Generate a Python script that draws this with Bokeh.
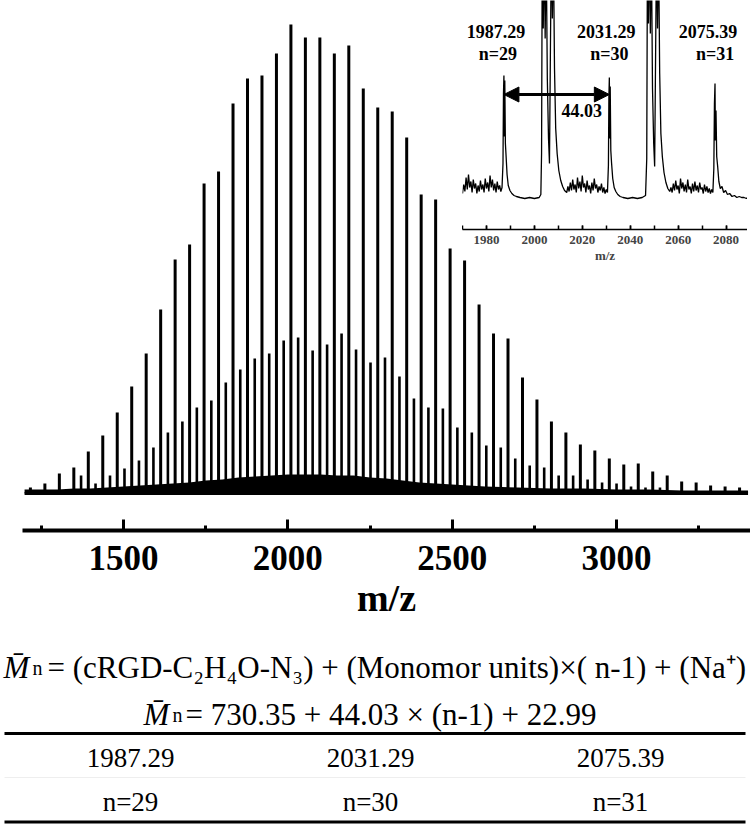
from bokeh.plotting import figure
from bokeh.models import Range1d, SingleIntervalTicker, Arrow, NormalHead, ColumnDataSource
from bokeh.layouts import column
from bokeh.embed import file_html
from bokeh.resources import INLINE
from bokeh.core.properties import value

FONT = "Liberation Serif"

# ---------------- data ----------------
# main series (tall peaks), m/z and relative intensity (a.u.)
tall_mz = [1216.76, 1260.79, 1304.82, 1348.85, 1392.88, 1436.91, 1480.94, 1524.97, 1569.00, 1613.03,
           1657.06, 1701.09, 1745.12, 1789.15, 1833.18, 1877.21, 1921.24, 1965.27, 2009.30, 2053.33,
           2097.36, 2141.39, 2185.42, 2229.45, 2273.48, 2317.51, 2361.54, 2405.57, 2449.60, 2493.63,
           2537.66, 2581.69, 2625.72, 2669.75, 2713.78, 2757.81, 2801.84, 2845.87, 2889.90, 2933.93,
           2977.96, 3021.99, 3066.02, 3110.05, 3154.08, 3198.11, 3242.14, 3286.17, 3330.20, 3374.23]
tall_int = [6, 10, 20, 26, 42, 58, 81, 107, 140, 184,
            234, 249, 310, 322, 390, 415, 418, 440, 469, 456,
            456, 440, 448, 405, 386, 382, 356, 299, 294, 245,
            233, 189, 160, 155, 116, 94, 72, 61, 49, 43,
            35, 29, 30, 22, 18, 12, 11, 8, 7, 6]

# n-series (cRGD-PEG-N3 + Na+), m/z and intensity
small_mz = [1370.87, 1414.90, 1458.93, 1502.96, 1546.99, 1591.02, 1635.05, 1679.08, 1723.11, 1767.14,
            1811.17, 1855.20, 1899.23, 1943.26, 1987.29, 2031.29, 2075.39, 2119.38, 2163.41, 2207.44,
            2251.47, 2295.50, 2339.53, 2383.56, 2427.59, 2471.62, 2515.65, 2559.68, 2603.71, 2647.74,
            2691.77, 2735.80, 2779.83, 2823.86, 2867.89, 2911.92, 2955.95, 2999.98, 3044.01, 3088.04,
            3132.07]
small_int = [18, 10, 18, 25, 33, 46, 61, 72, 86, 93,
             111, 124, 135, 140, 153, 156, 143, 149, 160, 144,
             131, 136, 117, 95, 86, 85, 66, 61, 48, 46,
             35, 28, 26, 18, 18, 14, 11, 10, 7, 6,
             6]

# baseline noise level along the spectrum
noise_mz = [1199, 1250, 1300, 1350, 1400, 1450, 1500, 1550, 1600, 1650, 1700, 1750, 1800, 1850,
            1900, 1950, 2000, 2050, 2100, 2150, 2200, 2250, 2300, 2350, 2400, 2450, 2500, 2550,
            2600, 2700, 2800, 2900, 3000, 3100, 3200, 3300, 3400]
noise_int = [4, 4, 4, 5, 5, 6, 7, 8, 9, 10, 11, 13, 14, 16,
             17, 18, 19, 19, 19, 18, 18, 16, 15, 13, 11, 10, 9, 8,
             7, 6, 5, 5, 4, 4, 3, 3, 3]

# inset trace (zoom 1970-2090)
inset_mz = [1970.0, 1970.5, 1971.0, 1971.5, 1972.0, 1972.5, 1973.0, 1973.5, 1974.0, 1974.5,
            1975.0, 1975.5, 1976.0, 1976.5, 1977.0, 1977.5, 1978.0, 1978.5, 1979.0, 1979.5,
            1980.0, 1980.5, 1981.0, 1981.5, 1982.0, 1982.5, 1983.0, 1983.5, 1984.0, 1984.5,
            1985.0, 1985.5, 1986.0, 1986.5,
            1986.9, 1987.1, 1987.29, 1987.45, 1987.65, 1987.9, 1988.2, 1988.6, 1989.1, 1989.8,
            1990.6, 1991.5, 1992.5, 1994.0, 1996.0, 1998.0, 2000.0, 2002.0, 2002.7,
            2003.0, 2003.3, 2003.7, 2004.1, 2004.5, 2004.9, 2005.4, 2005.9, 2006.3, 2006.7,
            2007.1, 2007.5, 2007.9, 2008.4, 2008.9, 2009.5, 2010.2, 2011.0, 2011.8, 2012.6,
            2013.5, 2014.0, 2014.5, 2015.0, 2015.5, 2016.0, 2016.5, 2017.0, 2017.5, 2018.0,
            2018.5, 2019.0, 2019.5, 2020.0, 2020.5, 2021.0, 2021.5, 2022.0, 2022.5, 2023.0,
            2023.5, 2024.0, 2024.5, 2025.0, 2025.5, 2026.0, 2026.5, 2027.0, 2027.5, 2028.0,
            2028.5, 2029.0, 2029.5, 2030.0, 2030.5,
            2030.9, 2031.1, 2031.29, 2031.45, 2031.65, 2031.9, 2032.2, 2032.7, 2033.3, 2034.0,
            2034.8, 2035.8, 2037.0, 2039.0, 2041.0, 2043.0, 2045.0, 2046.4,
            2046.9, 2047.2, 2047.6, 2048.0, 2048.4, 2048.8, 2049.3, 2049.8, 2050.2, 2050.6,
            2051.0, 2051.4, 2051.8, 2052.3, 2052.8, 2053.4, 2054.1, 2054.9, 2055.7, 2056.5,
            2057.0, 2057.5, 2058.0, 2058.5, 2059.0, 2059.5, 2060.0, 2060.5, 2061.0, 2061.5,
            2062.0, 2062.5, 2063.0, 2063.5, 2064.0, 2064.5, 2065.0, 2065.5, 2066.0, 2066.5,
            2067.0, 2067.5, 2068.0, 2068.5, 2069.0, 2069.5, 2070.0, 2070.5, 2071.0, 2071.5,
            2072.0, 2072.5, 2073.0, 2073.5, 2074.0, 2074.5,
            2074.9, 2075.15, 2075.39, 2075.55, 2075.8, 2076.1, 2076.5, 2077.0, 2077.6, 2078.3,
            2079.0, 2079.8, 2080.6, 2081.5, 2082.5, 2083.5, 2084.5, 2085.5, 2086.5, 2087.5,
            2088.5, 2089.0]
inset_int = [5, 14, 7, 21, 9, 24, 11, 17, 6, 19,
             10, 15, 5, 13, 7, 18, 9, 14, 6, 20,
             10, 16, 7, 23, 11, 19, 8, 15, 6, 17,
             9, 13, 7, 11,
             35, 105, 123, 62, 118, 55, 42, 24, 13, 8,
             5, 3, 2, 1, 0, 1, 0, 1, 4,
             45, 260, 170, 260, 160, 260, 120, 60, 35, 150,
             260, 180, 260, 130, 70, 45, 28, 18, 12, 8,
             6, 12, 7, 16, 8, 19, 9, 14, 6, 21,
             10, 17, 7, 23, 11, 15, 6, 18, 9, 13,
             5, 16, 8, 20, 10, 14, 6, 12, 8, 15,
             6, 11, 5, 9, 6,
             33, 102, 121, 60, 112, 48, 36, 20, 11, 7,
             4, 2, 1, 0, 1, 0, 1, 3,
             40, 260, 175, 260, 165, 260, 110, 55, 32, 145,
             260, 170, 260, 125, 65, 42, 26, 16, 10, 7,
             11, 6, 15, 8, 18, 9, 13, 5, 20, 10,
             16, 7, 14, 6, 19, 9, 12, 5, 15, 7,
             17, 8, 13, 6, 16, 9, 11, 5, 14, 7,
             12, 6, 10, 5, 9, 6,
             30, 95, 115, 58, 88, 42, 32, 17, 10, 12,
             6, 8, 4, 5, 2, 3, 1, 2, 1, 1,
             0, 1]

# labelled peaks
peak_mz = [1987.29, 2031.29, 2075.39]
peak_label = ["1987.29", "2031.29", "2075.39"]
peak_n = [29, 30, 31]

BASE_MASS = "730.35"
MONOMER = "44.03"
NA_MASS = "22.99"

W, H = 750, 824

# ---------------- main spectrum ----------------
main = figure(width=W, height=H, x_range=Range1d(1192.7, 3407.5), y_range=Range1d(-37, 493),
              output_backend="svg", toolbar_location=None, y_axis_location=None,
              min_border_left=22, min_border_right=0, min_border_top=0, min_border_bottom=294,
              background_fill_alpha=0, border_fill_alpha=0, outline_line_color=None,
              frame_align=False)
main.grid.visible = False
main.margin = (0, 0, -H, 0)

main.varea(x=noise_mz, y1=[0] * len(noise_mz), y2=noise_int, fill_color="black")
main.line(x=[1199, 3400], y=[0, 0], line_color="black", line_width=3)
main.segment(x0=small_mz, y0=[0] * len(small_mz), x1=small_mz, y1=small_int,
             line_color="black", line_width=2.6)
main.segment(x0=tall_mz, y0=[0] * len(tall_mz), x1=tall_mz, y1=tall_int,
             line_color="black", line_width=3)

ax = main.xaxis[0]
ax.ticker = SingleIntervalTicker(interval=500, num_minor_ticks=2)
ax.axis_line_width = 4
ax.axis_line_color = "black"
ax.major_tick_line_width = 3
ax.minor_tick_line_width = 3
ax.major_tick_in = 11
ax.major_tick_out = 0
ax.minor_tick_in = 5
ax.minor_tick_out = 0
ax.major_label_text_font = FONT
ax.major_label_text_font_size = "35px"
ax.major_label_text_font_style = "bold"
ax.major_label_text_color = "black"
ax.major_label_standoff = 15
ax.axis_label = "m/z"
ax.axis_label_text_font = FONT
ax.axis_label_text_font_size = "38px"
ax.axis_label_text_font_style = "bold"
ax.axis_label_text_color = "black"
ax.axis_label_standoff = 4

# ---------------- inset ----------------
IW, IH = 285, 268
inset = figure(width=IW, height=IH, x_range=Range1d(1970, 2088.95), y_range=Range1d(-31, 198),
               output_backend="svg", toolbar_location=None, y_axis_location=None,
               min_border_left=0, min_border_right=0, min_border_top=0, min_border_bottom=39,
               background_fill_alpha=0, border_fill_alpha=0, outline_line_color=None,
               frame_align=False)
inset.grid.visible = False
inset.margin = (0, 0, -IH, 462)
inset.line(x=inset_mz, y=inset_int, line_color="black", line_width=1.3)

iax = inset.xaxis[0]
iax.ticker = SingleIntervalTicker(interval=20, num_minor_ticks=2)
iax.axis_line_width = 1.5
iax.major_tick_line_width = 1.5
iax.minor_tick_line_width = 1.5
iax.major_tick_in = 4
iax.major_tick_out = 0
iax.minor_tick_in = 4
iax.minor_tick_out = 0
iax.major_label_text_font = FONT
iax.major_label_text_font_size = "13px"
iax.major_label_text_font_style = "bold"
iax.major_label_standoff = 6
iax.axis_label = "m/z"
iax.axis_label_text_font = FONT
iax.axis_label_text_font_size = "13px"
iax.axis_label_text_font_style = "bold"
iax.axis_label_standoff = 1

lab_src = ColumnDataSource(dict(x=peak_mz, lab=peak_label,
                                n=["n=%d" % v for v in peak_n],
                                dx=[-8, -3, -7], dxn=[-6, 0, 0]))
inset.text(x="x", y=167, text="lab", source=lab_src, x_offset="dx",
           text_font=value(FONT), text_font_size="18px", text_font_style="bold",
           text_align="center", text_baseline="middle")
inset.text(x="x", y=145, text="n", source=lab_src, x_offset="dxn",
           text_font=value(FONT), text_font_size="18px", text_font_style="bold",
           text_align="center", text_baseline="middle")
inset.add_layout(Arrow(start=NormalHead(size=15, fill_color="black", line_color="black"),
                       end=NormalHead(size=15, fill_color="black", line_color="black"),
                       x_start=peak_mz[0], y_start=104, x_end=peak_mz[1], y_end=104,
                       line_width=3, line_color="black"))
inset.text(x=[(peak_mz[0] + peak_mz[1]) / 2], y=[88], text=[MONOMER], x_offset=25,
           text_font=value(FONT), text_font_size="18px", text_font_style="bold",
           text_align="center", text_baseline="middle")

# ---------------- formula + table ----------------
bot = figure(width=W, height=H, x_range=Range1d(0, W), y_range=Range1d(H, 0),
             output_backend="svg", toolbar_location=None, x_axis_location=None, y_axis_location=None,
             min_border=0, background_fill_alpha=0, border_fill_alpha=0, outline_line_color=None,
             frame_align=False)
bot.grid.visible = False

def txt(x, y, s, size, style="normal", align="left"):
    bot.text(x=[x], y=[y], text=[s], text_font=value(FONT), text_font_size=size,
             text_font_style=style, text_align=align, text_baseline="alphabetic", text_color="black")

txt(3, 667, "M\u0304", "31px", "italic")
txt(32, 667, "n", "20px")
txt(47, 667, "= (cRGD-C\u2082H\u2084O-N\u2083) + (Monomor units)\u00d7( n-1) + (Na\u207a)", "31px")
txt(143, 714, "M\u0304", "31px", "italic")
txt(172, 714, "n", "20px")
txt(185, 714, "= %s + %s \u00d7 (n-1) + %s" % (BASE_MASS, MONOMER, NA_MASS), "31px")

bot.segment(x0=[4], y0=[733], x1=[745], y1=[733], line_color="black", line_width=3)
bot.segment(x0=[4], y0=[777], x1=[745], y1=[777], line_color="#eeeeee", line_width=1)
bot.segment(x0=[4], y0=[821.5], x1=[745], y1=[821.5], line_color="black", line_width=3)

tab_x = [130, 370, 620]
bot.text(x=tab_x, y=[757.5] * 3, text=peak_label, text_font=value(FONT), text_font_size="27px",
         text_align="center", text_baseline="middle", text_color="black")
bot.text(x=tab_x, y=[801.5] * 3, text=["n=%d" % v for v in peak_n], text_font=value(FONT),
         text_font_size="27px", text_align="center", text_baseline="middle", text_color="black")

layout = column(inset, main, bot, spacing=0)
open("out.html", "w").write(file_html(layout, INLINE))
